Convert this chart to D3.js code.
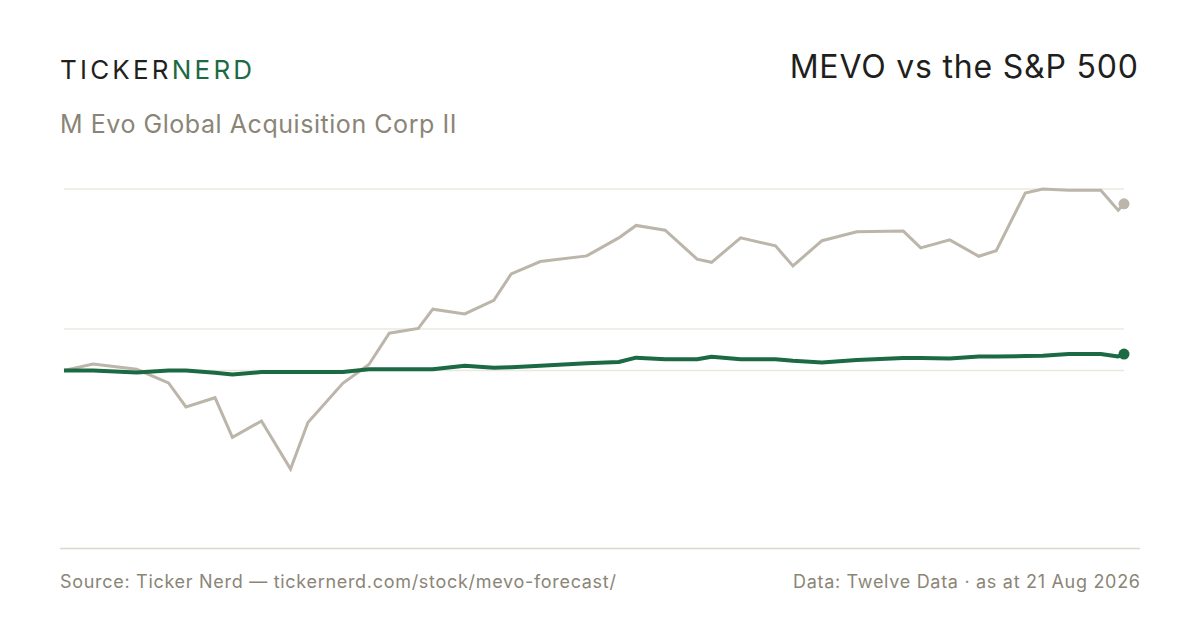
<!DOCTYPE html>
<html>
<head>
<meta charset="utf-8">
<script src="https://cdn.jsdelivr.net/npm/d3@7"></script>
<style>
  html, body { margin: 0; padding: 0; background: #fff; }
  svg { display: block; font-family: Inter, "Noto Sans", sans-serif; }
</style>
</head>
<body>
<div class="viz"></div>
<script>
// days since the start date (21 Aug 2025)
const startDate = new Date(Date.UTC(2025, 7, 21))
const dayOffsets = [0, 10, 25, 36, 42, 52, 58, 68, 78, 84, 96, 105, 112, 122, 127, 138, 148, 154, 164, 180,
  191, 197, 207, 218, 223, 233, 245, 251, 261, 273, 289, 295, 305, 315, 321, 331, 337, 346, 357, 363, 365]
// % change since start
const mevoValues = [0, 1.6, 0.3, -3.1, -9.1, -6.8, -16.7, -12.6, -24.6, -13.0, -3.2, 1.5, 9.3, 10.5, 15.3, 14.1, 17.5, 24.1, 27.2, 28.6,
  33.1, 36.2, 35.0, 27.8, 27.0, 33.1, 31.1, 26.1, 32.4, 34.6, 34.8, 30.6, 32.6, 28.5, 29.9, 44.3, 45.3, 45.0, 45.0, 40.0, 41.6]
const spxValues = [0, 0, -0.5, 0, 0, -0.6, -1.0, -0.4, -0.4, -0.4, -0.4, 0.3, 0.3, 0.3, 0.3, 1.2, 0.7, 0.8, 1.2, 1.8,
  2.1, 3.2, 2.8, 2.8, 3.4, 2.8, 2.8, 2.4, 2.0, 2.6, 3.1, 3.1, 3.0, 3.5, 3.5, 3.6, 3.7, 4.1, 4.1, 3.5, 4.1]

const title = "MEVO vs the S&P 500"
const subtitle = "M Evo Global Acquisition Corp II"
const sourceText = "Source: Ticker Nerd \u2014 tickernerd.com/stock/mevo-forecast/"
const dataText = "Data: Twelve Data \u00b7 as at 21 Aug 2026"

const drawChart = () => {
  const w = 1200, h = 630
  const dates = dayOffsets.map(d => d3.utcDay.offset(startDate, d))
  const mevo = dates.map((d, i) => ({ date: d, v: mevoValues[i] }))
  const spx = dates.map((d, i) => ({ date: d, v: spxValues[i] }))

  const minV = d3.min(mevoValues), maxV = d3.max(mevoValues)

  const x = d3.scaleUtc()
    .domain(d3.extent(dates))
    .range([64, 1124])
  const y = d3.scaleLinear()
    .domain([minV, maxV])
    .range([469, 189])

  const svg = d3.select(".viz")
    .append("svg")
    .attr("width", w)
    .attr("height", h)

  // header
  const logo = svg.append("text")
    .attr("x", 60).attr("y", 79)
    .attr("font-size", 26)
    .attr("letter-spacing", 3.2)
  logo.append("tspan").attr("fill", "#1f1f1d").text("TICKER")
  logo.append("tspan").attr("fill", "#1b6a44").text("NERD")

  svg.append("text")
    .attr("x", 1138.8).attr("y", 78)
    .attr("text-anchor", "end")
    .attr("font-size", 32)
    .attr("letter-spacing", 0.8)
    .attr("fill", "#1f1f1d")
    .text(title)

  svg.append("text")
    .attr("x", 60).attr("y", 133)
    .attr("font-size", 25)
    .attr("letter-spacing", 0.55)
    .attr("fill", "#8a8577")
    .text(subtitle)

  // gridlines: top, middle and zero
  const grid = [maxV, (minV + maxV) / 2, 0]
  svg.selectAll("line.grid")
    .data(grid)
    .enter()
    .append("line")
    .attr("class", "grid")
    .attr("x1", x.range()[0]).attr("x2", x.range()[1])
    .attr("y1", d => y(d)).attr("y2", d => y(d))
    .attr("stroke", "#ebe8e2")
    .attr("stroke-width", 1.5)

  const line = d3.line()
    .x(d => x(d.date))
    .y(d => y(d.v))

  svg.append("path")
    .datum(mevo)
    .attr("d", line)
    .attr("fill", "none")
    .attr("stroke", "#bcb5a9")
    .attr("stroke-width", 3)
    .attr("stroke-linejoin", "miter")

  svg.append("path")
    .datum(spx)
    .attr("d", line)
    .attr("fill", "none")
    .attr("stroke", "#1b6a44")
    .attr("stroke-width", 4)
    .attr("stroke-linejoin", "round")

  svg.append("circle")
    .attr("cx", x(mevo[mevo.length - 1].date))
    .attr("cy", y(mevo[mevo.length - 1].v))
    .attr("r", 5.5)
    .attr("fill", "#bcb5a9")
  svg.append("circle")
    .attr("cx", x(spx[spx.length - 1].date))
    .attr("cy", y(spx[spx.length - 1].v))
    .attr("r", 5.5)
    .attr("fill", "#1b6a44")

  // bottom rule
  svg.append("line")
    .attr("x1", 60).attr("x2", 1140)
    .attr("y1", 548.5).attr("y2", 548.5)
    .attr("stroke", "#dcd7cb")
    .attr("stroke-width", 1.5)

  // footer
  svg.append("text")
    .attr("x", 60).attr("y", 588)
    .attr("font-size", 18)
    .attr("letter-spacing", 0.7)
    .attr("fill", "#8a8577")
    .text(sourceText)
  svg.append("text")
    .attr("x", 1140.7).attr("y", 588)
    .attr("text-anchor", "end")
    .attr("font-size", 18)
    .attr("letter-spacing", 0.7)
    .attr("fill", "#8a8577")
    .text(dataText)
}

drawChart()
</script>
</body>
</html>
